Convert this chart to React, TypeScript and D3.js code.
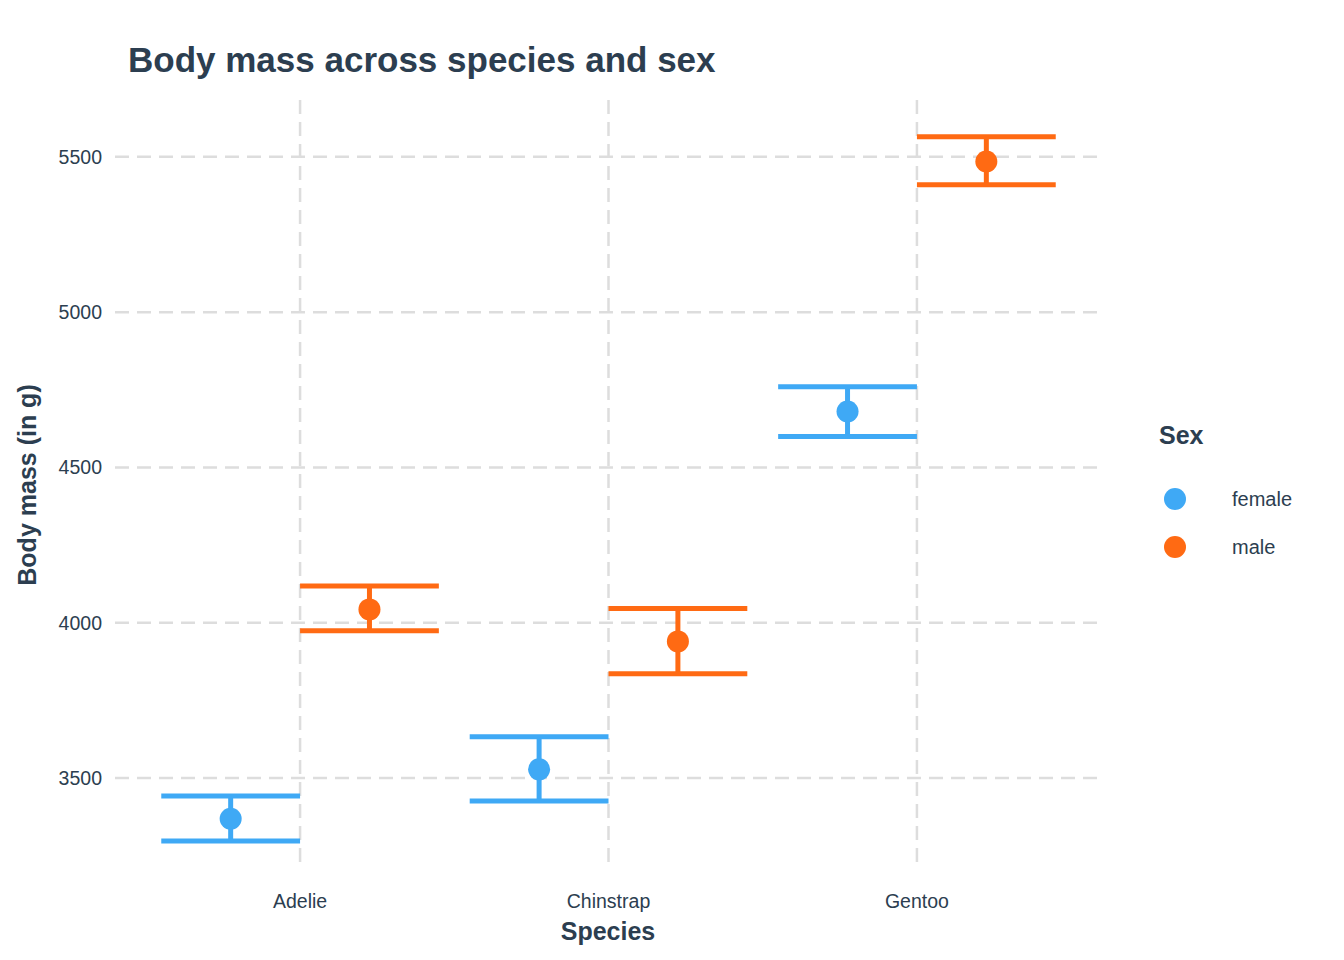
import React from "react";
import * as d3 from "d3";

const species = ["Adelie", "Chinstrap", "Gentoo"];
const sexes = ["female", "male"];
const means = { female: [3369, 3528, 4680], male: [4043, 3940, 5485] };
const lows = { female: [3297, 3426, 4600], male: [3974, 3836, 5410] };
const highs = { female: [3442, 3633, 4760], male: [4118, 4046, 5565] };
const yTicks = [3500, 4000, 4500, 5000, 5500];
const colors: Record<string, string> = { female: "#3FA9F5", male: "#FF6A13" };

export default function App() {
  const W = 1344, H = 960;
  const left = 115, right = 1102, top = 100, bottom = 870;
  const txt = "#2C3E50";
  const font = "Liberation Sans, Arial, sans-serif";
  const x = d3.scalePoint<string>().domain(species).range([left, right]).padding(0.6);
  const y = d3.scaleLinear().domain([3204, 5683]).range([bottom, top]);
  const step = x.step();
  const dodge = step * 0.225;
  const half = step * 0.225;
  return (
    <svg width={W} height={H} style={{ position: "absolute", left: 0, top: 0 }} fontFamily={font}>
      <rect width={W} height={H} fill="white" />
      {yTicks.map(t => (
        <g key={t}>
          <line x1={left} x2={right} y1={y(t)} y2={y(t)} stroke="#DDDDDD" strokeWidth={2.5} strokeDasharray="14,8" />
          <text x={102} y={y(t)} dy="0.35em" textAnchor="end" fontSize={19.5} fill={txt}>{t}</text>
        </g>
      ))}
      {species.map(s => (
        <g key={s}>
          <line x1={x(s)} x2={x(s)} y1={top} y2={bottom} stroke="#DDDDDD" strokeWidth={2.5} strokeDasharray="14,8" />
          <text x={x(s)} y={908} textAnchor="middle" fontSize={19.5} fill={txt}>{s}</text>
        </g>
      ))}
      {sexes.map((sx, si) => species.map((s, i) => {
        const cx = (x(s) as number) + (si === 0 ? -dodge : dodge);
        const c = colors[sx];
        const m = (means as any)[sx][i], lo = (lows as any)[sx][i], hi = (highs as any)[sx][i];
        return (
          <g key={sx + s}>
            <line x1={cx} x2={cx} y1={y(lo)} y2={y(hi)} stroke={c} strokeWidth={5} />
            <line x1={cx - half} x2={cx + half} y1={y(lo)} y2={y(lo)} stroke={c} strokeWidth={5} />
            <line x1={cx - half} x2={cx + half} y1={y(hi)} y2={y(hi)} stroke={c} strokeWidth={5} />
            <circle cx={cx} cy={y(m)} r={11} fill={c} />
          </g>
        );
      }))}
      <text x={128} y={72} fontSize={35} fontWeight="bold" fill={txt}>Body mass across species and sex</text>
      <text x={608} y={940} textAnchor="middle" fontSize={25} fontWeight="bold" fill={txt}>Species</text>
      <text transform={`translate(36,${(top + bottom) / 2}) rotate(-90)`} textAnchor="middle" fontSize={25} fontWeight="bold" fill={txt}>Body mass (in g)</text>
      <text x={1159} y={444} fontSize={25} fontWeight="bold" fill={txt}>Sex</text>
      {sexes.map((sx, i) => (
        <g key={sx}>
          <circle cx={1175} cy={499 + i * 48} r={11} fill={colors[sx]} />
          <text x={1232} y={499 + i * 48} dy="0.35em" fontSize={20} fill={txt}>{sx}</text>
        </g>
      ))}
    </svg>
  );
}
